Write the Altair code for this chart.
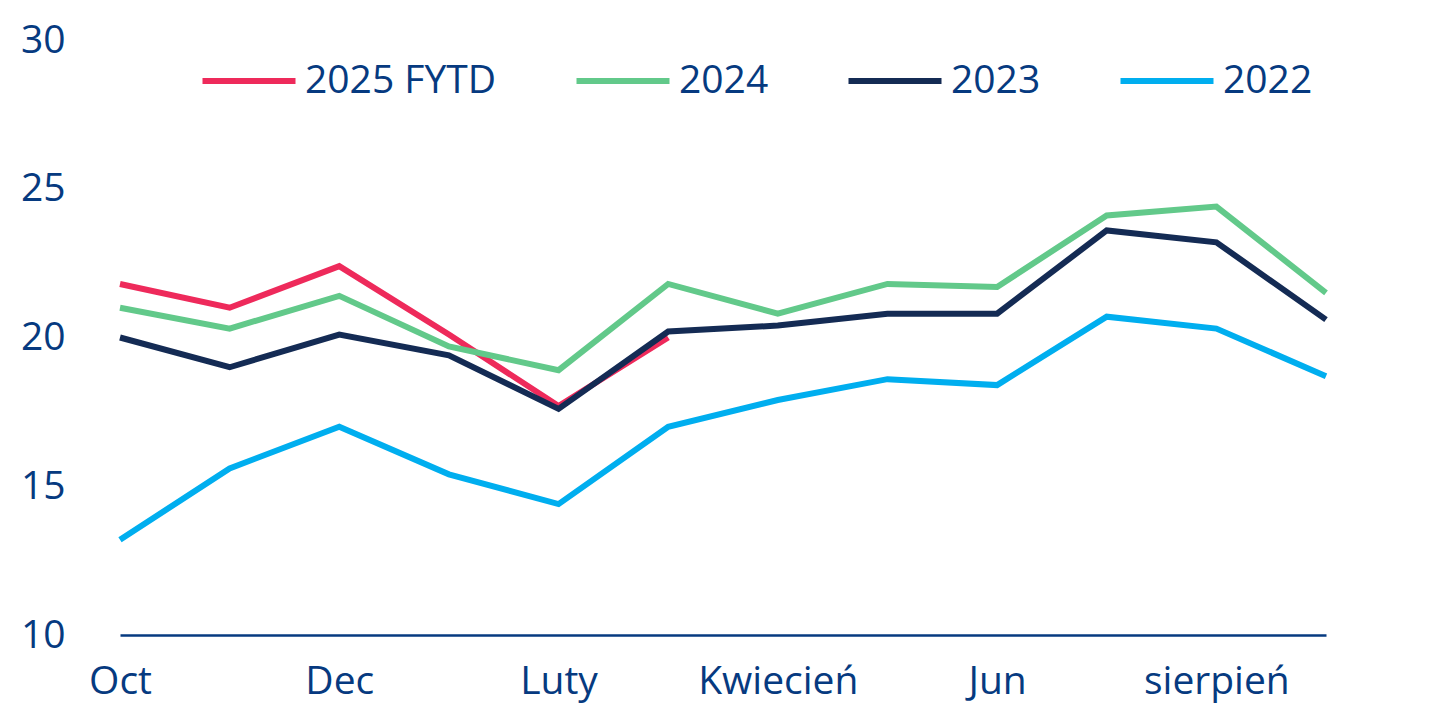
import altair as alt
import pandas as pd

months = ["Oct", "Nov", "Dec", "Jan", "Luty", "Mar", "Kwiecień", "May", "Jun", "Jul", "sierpień", "Sep"]
shown_labels = ["Oct", "Dec", "Luty", "Kwiecień", "Jun", "sierpień"]

series_names = ["2025 FYTD", "2024", "2023", "2022"]
colors = ["#EE2A5B", "#62C98A", "#142B54", "#00AEEF"]

v2025 = [21.8, 21.0, 22.4, 20.1, 17.7, 20.0]
v2024 = [21.0, 20.3, 21.4, 19.7, 18.9, 21.8, 20.8, 21.8, 21.7, 24.1, 24.4, 21.5]
v2023 = [20.0, 19.0, 20.1, 19.4, 17.6, 20.2, 20.4, 20.8, 20.8, 23.6, 23.2, 20.6]
v2022 = [13.2, 15.6, 17.0, 15.4, 14.4, 17.0, 17.9, 18.6, 18.4, 20.7, 20.3, 18.7]

rows = []
for name, vals in zip(series_names, [v2025, v2024, v2023, v2022]):
    for i, v in enumerate(vals):
        rows.append({"month": months[i], "value": v, "series": name, "idx": i})
df = pd.DataFrame(rows)

text_color = "#063A80"
font = "Open Sans"

chart = alt.Chart(df).mark_line(strokeWidth=6, strokeJoin="miter").encode(
    x=alt.X("month:N", sort=months,
            scale=alt.Scale(type="point", padding=0, domain=months),
            axis=alt.Axis(title=None, values=shown_labels, labelAngle=0,
                          domainColor=text_color, domainWidth=2.5,
                          ticks=False, labelPadding=27, labelFontSize=39,
                          labelColor=text_color, labelFont=font, grid=False)),
    y=alt.Y("value:Q", scale=alt.Scale(domain=[10, 30]),
            axis=alt.Axis(title=None, values=[10, 15, 20, 25, 30], domain=False,
                          ticks=False, grid=False, labelPadding=55,
                          labelFontSize=39, labelColor=text_color, labelFont=font)),
    color=alt.Color("series:N", sort=series_names,
                    scale=alt.Scale(domain=series_names, range=colors),
                    legend=alt.Legend(title=None, orient="none", direction="horizontal",
                                      legendX=79, legendY=-9, columns=4,
                                      symbolType="stroke", symbolSize=8650,
                                      symbolStrokeWidth=6, labelFontSize=39,
                                      labelColor=text_color, labelFont=font,
                                      labelLimit=0, labelOffset=6, columnPadding=67)),
    detail="series:N",
    order="idx:Q",
).properties(
    width=1206, height=595,
    padding={"left": 120, "top": 40, "right": 103, "bottom": 80},
    autosize=alt.AutoSizeParams(type="none"),
    background="white",
).configure_view(stroke="transparent", strokeWidth=0)

chart.save("out.html", embed_options={"renderer": "svg", "actions": False})
